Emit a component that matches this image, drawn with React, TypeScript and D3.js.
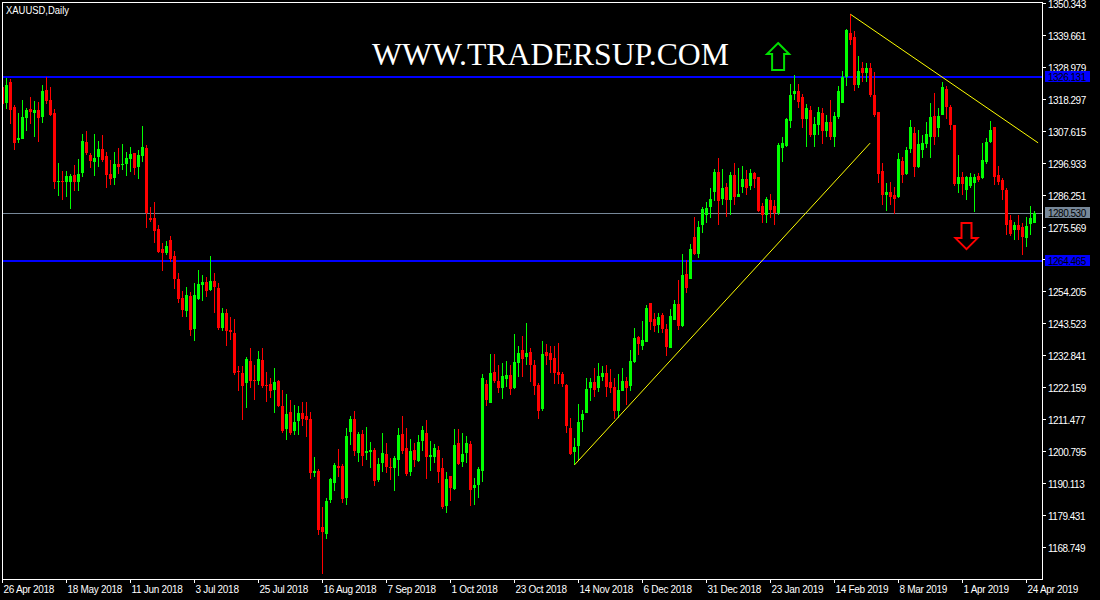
import React, { useRef, useEffect } from 'react';
import * as d3 from 'd3';

// XAUUSD daily candles (bar 0 = 26 Apr 2018)
const opens = [
  1322.5, 1317.2, 1324.3, 1316.0, 1305.0, 1305.3, 1312.4, 1315.3, 1314.0, 1315.0,
  1312.6, 1321.6, 1318.3, 1314.0, 1290.8, 1291.3, 1291.0, 1291.0, 1293.3, 1291.0,
  1294.0, 1304.3, 1300.0, 1297.6, 1299.3, 1302.0, 1299.6, 1293.6, 1292.3, 1297.0,
  1296.6, 1297.0, 1298.6, 1300.6, 1296.0, 1299.6, 1302.3, 1278.9, 1278.9, 1275.2,
  1268.5, 1267.3, 1271.5, 1266.2, 1258.5, 1252.2, 1247.9, 1252.9, 1241.9, 1252.0,
  1256.6, 1257.6, 1254.9, 1257.9, 1255.6, 1242.3, 1247.2, 1241.6, 1240.6, 1227.9,
  1227.3, 1223.9, 1231.3, 1224.9, 1224.6, 1231.6, 1223.3, 1223.6, 1221.6, 1224.6,
  1216.3, 1208.6, 1214.3, 1207.9, 1211.3, 1213.9, 1212.9, 1211.9, 1193.9, 1194.3,
  1175.8, 1173.4, 1184.8, 1190.4, 1196.1, 1196.1, 1185.4, 1207.5, 1211.8, 1200.4,
  1206.8, 1200.4, 1200.8, 1201.4, 1191.4, 1197.1, 1200.1, 1195.8, 1195.4, 1198.1,
  1206.8, 1202.1, 1194.1, 1201.4, 1197.8, 1204.4, 1207.1, 1199.1, 1199.1, 1201.4,
  1195.4, 1182.8, 1192.8, 1188.4, 1203.8, 1197.4, 1200.4, 1203.4, 1188.8, 1189.8,
  1194.6, 1223.6, 1217.3, 1227.6, 1224.6, 1222.2, 1225.3, 1226.6, 1222.2, 1230.5,
  1234.8, 1232.4, 1234.3, 1229.9, 1223.1, 1215.2, 1234.3, 1234.0, 1232.1, 1227.6,
  1226.8, 1223.3, 1208.7, 1200.8, 1202.8, 1211.4, 1213.7, 1222.1, 1224.3, 1222.2,
  1225.7, 1227.3, 1224.3, 1222.4, 1214.5, 1221.1, 1224.6, 1222.8, 1231.0, 1239.1,
  1236.2, 1237.6, 1250.4, 1245.2, 1243.2, 1246.5, 1241.7, 1235.6, 1244.9, 1250.2,
  1243.0, 1260.2, 1258.5, 1272.4, 1266.9, 1276.5, 1280.0, 1282.6, 1287.7, 1294.1,
  1285.1, 1289.3, 1284.9, 1293.3, 1286.0, 1289.4, 1291.8, 1289.6, 1294.0, 1292.6,
  1283.0, 1279.9, 1284.9, 1282.9, 1280.6, 1302.2, 1302.9, 1311.4, 1320.3, 1321.4,
  1319.2, 1312.0, 1314.9, 1306.6, 1310.0, 1313.8, 1308.0, 1311.0, 1306.0, 1312.7,
  1317.2, 1326.1, 1340.6, 1339.2, 1323.3, 1328.9, 1327.4, 1328.9, 1319.9, 1314.4,
  1294.7, 1286.6, 1287.7, 1286.6, 1285.8, 1298.0, 1293.6, 1301.8, 1307.2, 1296.0,
  1301.6, 1303.6, 1305.8, 1312.9, 1309.0, 1313.3, 1321.9, 1316.1, 1310.0, 1290.3,
  1292.7, 1288.3, 1289.6, 1290.5, 1293.0, 1292.1, 1297.7, 1304.4, 1309.4, 1293.3,
  1291.6, 1288.3, 1278.2, 1274.8, 1276.5, 1275.9, 1272.1, 1276.9, 1277.3,
];

const highs = [
  1325.0, 1325.7, 1325.3, 1316.6, 1314.0, 1318.3, 1315.6, 1319.3, 1318.0, 1317.6,
  1323.3, 1326.1, 1322.6, 1315.3, 1297.3, 1294.6, 1294.6, 1293.6, 1296.6, 1298.6,
  1307.0, 1308.0, 1300.6, 1307.0, 1304.6, 1306.6, 1300.9, 1298.3, 1300.9, 1302.3,
  1303.6, 1300.9, 1302.6, 1300.6, 1301.6, 1309.6, 1303.3, 1282.6, 1284.3, 1276.6,
  1270.5, 1271.2, 1272.9, 1267.9, 1260.5, 1254.5, 1255.9, 1254.3, 1257.2, 1261.5,
  1259.9, 1259.2, 1266.2, 1260.5, 1257.2, 1248.9, 1248.5, 1245.9, 1245.2, 1229.6,
  1229.6, 1232.6, 1235.6, 1229.9, 1234.6, 1235.6, 1227.6, 1225.6, 1228.9, 1224.9,
  1221.6, 1220.3, 1218.3, 1216.6, 1216.3, 1217.6, 1217.6, 1214.3, 1199.2, 1195.2,
  1182.4, 1185.4, 1192.1, 1197.1, 1201.8, 1196.8, 1208.8, 1212.8, 1214.5, 1207.5,
  1208.1, 1209.1, 1204.1, 1202.1, 1198.8, 1207.1, 1203.8, 1198.8, 1199.4, 1208.8,
  1212.8, 1208.8, 1205.1, 1203.8, 1206.4, 1209.4, 1211.5, 1204.4, 1203.4, 1202.8,
  1198.8, 1194.1, 1192.8, 1208.4, 1208.4, 1207.1, 1206.1, 1204.4, 1192.1, 1195.8,
  1226.9, 1224.9, 1233.5, 1233.5, 1229.9, 1230.6, 1231.2, 1229.9, 1240.3, 1236.1,
  1239.5, 1243.8, 1235.4, 1231.5, 1223.7, 1237.7, 1236.7, 1236.1, 1236.1, 1237.1,
  1227.6, 1223.5, 1212.0, 1205.5, 1216.8, 1214.8, 1225.4, 1225.4, 1228.9, 1230.6,
  1229.5, 1229.9, 1228.4, 1225.4, 1226.8, 1229.0, 1225.7, 1234.8, 1242.2, 1239.6,
  1244.6, 1250.0, 1250.6, 1247.1, 1247.3, 1247.3, 1243.5, 1248.4, 1251.6, 1258.2,
  1266.9, 1264.9, 1270.2, 1279.3, 1277.9, 1282.7, 1284.4, 1288.8, 1295.2, 1298.8,
  1295.2, 1290.7, 1294.4, 1297.2, 1295.5, 1296.2, 1294.9, 1295.2, 1294.4, 1292.6,
  1283.8, 1285.8, 1286.9, 1284.9, 1303.8, 1305.8, 1312.2, 1323.6, 1326.6, 1323.6,
  1320.3, 1316.9, 1316.3, 1312.7, 1315.8, 1315.5, 1313.3, 1318.3, 1314.4, 1323.0,
  1328.0, 1341.9, 1346.9, 1341.4, 1333.0, 1331.1, 1330.6, 1330.6, 1327.7, 1314.4,
  1297.2, 1290.5, 1291.0, 1289.4, 1300.7, 1299.4, 1302.7, 1311.6, 1309.4, 1308.3,
  1306.6, 1311.0, 1317.4, 1320.5, 1315.5, 1324.4, 1323.0, 1316.6, 1310.0, 1299.9,
  1294.4, 1293.0, 1293.8, 1293.6, 1293.8, 1303.8, 1305.5, 1311.3, 1309.4, 1296.3,
  1292.1, 1288.8, 1279.9, 1277.6, 1279.9, 1277.1, 1279.3, 1282.9, 1281.3,
];

const lows = [
  1315.0, 1315.3, 1310.3, 1301.6, 1304.0, 1305.3, 1307.9, 1310.3, 1306.0, 1304.4,
  1310.7, 1317.0, 1313.0, 1288.7, 1286.3, 1285.0, 1286.0, 1282.0, 1288.0, 1288.0,
  1292.7, 1300.0, 1295.7, 1293.0, 1296.0, 1297.6, 1289.0, 1290.0, 1290.0, 1293.6,
  1295.0, 1293.0, 1294.3, 1293.3, 1292.0, 1297.6, 1275.6, 1277.6, 1270.5, 1267.3,
  1261.3, 1266.6, 1264.3, 1255.1, 1250.6, 1245.9, 1245.9, 1239.6, 1237.9, 1251.5,
  1251.3, 1252.6, 1254.6, 1247.3, 1241.6, 1241.3, 1236.3, 1238.3, 1226.6, 1221.3,
  1211.6, 1215.6, 1222.3, 1218.3, 1223.3, 1222.3, 1217.6, 1218.9, 1213.9, 1215.9,
  1207.2, 1204.8, 1206.6, 1206.6, 1206.6, 1209.6, 1205.9, 1191.9, 1192.3, 1173.1,
  1160.1, 1171.8, 1183.8, 1187.8, 1192.4, 1183.8, 1183.1, 1203.1, 1199.4, 1197.4,
  1196.1, 1198.1, 1195.4, 1189.4, 1190.8, 1194.1, 1193.8, 1191.4, 1187.8, 1192.8,
  1200.1, 1192.8, 1192.8, 1195.8, 1197.4, 1201.1, 1191.8, 1194.4, 1197.1, 1190.4,
  1181.8, 1180.4, 1184.4, 1188.1, 1196.4, 1195.8, 1197.1, 1182.8, 1183.1, 1185.4,
  1190.8, 1216.1, 1217.3, 1223.7, 1220.6, 1218.5, 1222.6, 1219.9, 1221.7, 1225.8,
  1225.9, 1229.9, 1224.2, 1219.9, 1211.8, 1214.5, 1229.8, 1227.0, 1223.5, 1223.5,
  1222.6, 1207.0, 1199.8, 1196.5, 1197.8, 1207.6, 1213.7, 1217.9, 1219.3, 1220.7,
  1224.6, 1219.3, 1220.6, 1211.8, 1212.0, 1221.0, 1216.6, 1221.3, 1230.5, 1233.2,
  1234.8, 1237.6, 1241.5, 1240.9, 1240.4, 1240.6, 1232.8, 1235.6, 1244.9, 1241.5,
  1242.6, 1253.9, 1258.5, 1266.6, 1265.7, 1274.0, 1277.3, 1278.8, 1284.6, 1276.6,
  1283.2, 1279.3, 1279.9, 1283.2, 1286.0, 1287.1, 1286.6, 1288.3, 1288.8, 1281.0,
  1277.1, 1277.3, 1278.8, 1276.6, 1279.9, 1297.7, 1302.7, 1309.0, 1318.3, 1315.5,
  1308.8, 1302.7, 1306.0, 1302.7, 1306.6, 1303.6, 1306.0, 1305.1, 1302.5, 1311.8,
  1317.2, 1323.0, 1336.7, 1321.4, 1322.2, 1324.4, 1324.4, 1319.4, 1312.7, 1290.5,
  1283.2, 1281.3, 1283.2, 1280.4, 1285.5, 1290.5, 1293.3, 1300.5, 1292.7, 1295.5,
  1298.8, 1302.2, 1298.8, 1303.3, 1306.0, 1313.3, 1311.8, 1308.3, 1289.6, 1287.1,
  1286.6, 1284.9, 1288.8, 1281.0, 1291.0, 1291.8, 1297.0, 1303.8, 1289.9, 1289.9,
  1284.9, 1273.2, 1272.9, 1271.6, 1271.6, 1266.5, 1269.3, 1273.2, 1277.3,
];

const closes = [
  1317.0, 1323.3, 1315.0, 1304.0, 1305.6, 1312.6, 1315.0, 1314.3, 1315.0, 1312.4,
  1321.3, 1317.9, 1313.3, 1291.0, 1291.1, 1291.0, 1293.0, 1293.0, 1291.0, 1293.6,
  1304.6, 1300.6, 1298.0, 1299.0, 1302.0, 1298.3, 1293.3, 1292.0, 1297.0, 1296.0,
  1297.0, 1299.0, 1300.3, 1295.7, 1300.0, 1302.6, 1280.6, 1278.3, 1274.7, 1267.6,
  1267.3, 1269.5, 1265.2, 1258.6, 1252.0, 1248.3, 1253.2, 1241.6, 1253.2, 1256.9,
  1257.6, 1254.5, 1257.9, 1255.9, 1242.3, 1247.2, 1241.3, 1240.9, 1227.3, 1227.6,
  1222.9, 1231.8, 1224.6, 1224.6, 1231.9, 1222.9, 1222.9, 1221.3, 1224.3, 1216.3,
  1207.9, 1213.6, 1207.2, 1210.9, 1213.9, 1211.9, 1211.6, 1193.9, 1194.3, 1174.8,
  1174.1, 1184.4, 1191.8, 1196.4, 1195.4, 1185.1, 1206.1, 1211.8, 1201.1, 1206.8,
  1199.4, 1201.1, 1201.4, 1191.1, 1196.8, 1200.4, 1195.8, 1195.4, 1198.8, 1206.4,
  1201.1, 1193.4, 1201.1, 1198.1, 1204.1, 1208.1, 1199.1, 1199.8, 1202.1, 1194.1,
  1182.4, 1191.8, 1188.8, 1203.1, 1196.8, 1200.1, 1203.8, 1188.1, 1189.8, 1195.1,
  1225.6, 1218.0, 1227.3, 1224.6, 1222.2, 1226.2, 1226.6, 1221.9, 1230.9, 1233.8,
  1231.8, 1233.9, 1229.7, 1222.8, 1214.5, 1233.5, 1232.8, 1231.5, 1227.3, 1226.5,
  1223.5, 1209.6, 1200.1, 1202.5, 1210.8, 1213.6, 1221.7, 1224.3, 1221.5, 1226.2,
  1227.3, 1222.6, 1222.1, 1214.5, 1221.5, 1224.6, 1222.1, 1231.2, 1239.0, 1236.9,
  1238.1, 1248.9, 1244.3, 1242.8, 1245.9, 1242.0, 1235.9, 1246.2, 1250.2, 1243.0,
  1259.9, 1255.6, 1268.5, 1266.9, 1275.8, 1281.9, 1282.2, 1285.2, 1294.4, 1284.7,
  1288.8, 1284.9, 1293.3, 1286.0, 1287.0, 1291.8, 1289.0, 1294.0, 1291.8, 1281.3,
  1279.9, 1285.1, 1281.6, 1280.5, 1303.3, 1303.9, 1311.9, 1319.9, 1321.4, 1317.7,
  1312.0, 1315.5, 1306.6, 1310.3, 1314.4, 1308.0, 1311.0, 1305.8, 1312.8, 1321.3,
  1326.1, 1341.6, 1338.4, 1323.3, 1328.1, 1327.2, 1328.9, 1319.9, 1313.3, 1293.6,
  1286.6, 1287.7, 1286.0, 1285.2, 1298.5, 1293.2, 1301.6, 1309.4, 1296.0, 1303.6,
  1303.9, 1306.9, 1312.7, 1306.0, 1313.0, 1322.6, 1316.1, 1310.0, 1290.3, 1292.7,
  1290.3, 1292.7, 1292.7, 1292.7, 1291.6, 1298.3, 1304.4, 1308.3, 1292.5, 1291.0,
  1288.3, 1276.6, 1273.6, 1276.5, 1274.8, 1272.4, 1276.1, 1278.8, 1280.53,
];

// time axis: one label every 16 bars
const xTickLabels = [
  '26 Apr 2018', '18 May 2018', '11 Jun 2018', '3 Jul 2018', '25 Jul 2018', '16 Aug 2018',
  '7 Sep 2018', '1 Oct 2018', '23 Oct 2018', '14 Nov 2018', '6 Dec 2018', '31 Dec 2018',
  '23 Jan 2019', '14 Feb 2019', '8 Mar 2019', '1 Apr 2019', '24 Apr 2019',
];
const xTickStep = 16;

const yTickValues = [
  1350.343, 1339.661, 1328.979, 1318.297, 1307.615, 1296.933, 1286.251, 1275.569, 1264.887,
  1254.205, 1243.523, 1232.841, 1222.159, 1211.477, 1200.795, 1190.113, 1179.431, 1168.749,
];

// horizontal levels and current bid
const levelPrices = [1326.131, 1264.465];
const bidPrice = 1280.53;

// trend lines as [bar, price] pairs
const trendUp = [[143, 1196.5], [216.9, 1303.9]];
const trendDown = [[212, 1346.9], [258.9, 1304.0]];

// arrow anchors [bar, price at top of arrow]
const upArrow = [193.9, 1337.3];
const downArrow = [241, 1277.2];

const W = 1100;
const H = 600;

function CandleChart() {
  const svgRef = useRef(null);

  useEffect(() => {
    document.body.style.margin = '0';
    const svg = d3.select(svgRef.current);
    svg.selectAll('*').remove();

    const left = 2;
    const right = 1042;
    const top = 2;
    const bottom = 579;
    const font = '"Liberation Sans", Arial, sans-serif';

    const x = d3.scaleLinear().domain([0, 1]).range([1, 5]); // 4px per bar
    const cx = (i) => x(i) + 1.5;
    const y = d3.scaleLinear()
      .domain([yTickValues[yTickValues.length - 1], yTickValues[0]])
      .range([548, 4]);

    svg.append('rect').attr('width', W).attr('height', H).attr('fill', '#000');

    svg.append('defs').append('clipPath').attr('id', 'plot')
      .append('rect')
      .attr('x', left).attr('y', top)
      .attr('width', right - left).attr('height', bottom - top);

    const plot = svg.append('g').attr('clip-path', 'url(#plot)');

    // levels
    levelPrices.forEach(p => {
      const yy = Math.round(y(p));
      plot.append('rect')
        .attr('x', left).attr('width', right - left)
        .attr('y', yy - 1).attr('height', 2)
        .attr('fill', '#0000ff');
    });
    plot.append('line')
      .attr('x1', left).attr('x2', right)
      .attr('y1', Math.round(y(bidPrice)) + 0.5).attr('y2', Math.round(y(bidPrice)) + 0.5)
      .attr('stroke', '#778899').attr('stroke-width', 1);

    // candles
    const candles = plot.append('g').attr('shape-rendering', 'crispEdges');
    closes.forEach((c, i) => {
      const o = opens[i];
      const up = c >= o;
      const color = up ? '#00ff00' : '#ff0000';
      const xl = Math.round(x(i));
      const hy = Math.round(y(highs[i]));
      const ly = Math.round(y(lows[i]));
      candles.append('rect')
        .attr('x', xl + 1).attr('width', 1)
        .attr('y', hy).attr('height', Math.max(1, ly - hy))
        .attr('fill', color);
      const bt = Math.round(y(Math.max(o, c)));
      const bb = Math.round(y(Math.min(o, c)));
      candles.append('rect')
        .attr('x', xl).attr('width', 3)
        .attr('y', bt).attr('height', Math.max(1, bb - bt))
        .attr('fill', color);
    });

    // trend lines
    [trendUp, trendDown].forEach(t => {
      plot.append('line')
        .attr('x1', cx(t[0][0])).attr('y1', y(t[0][1]))
        .attr('x2', cx(t[1][0])).attr('y2', y(t[1][1]))
        .attr('stroke', '#ffff00').attr('stroke-width', 1);
    });

    // arrows
    const ux = cx(upArrow[0]);
    const uy = y(upArrow[1]);
    svg.append('path')
      .attr('d', `M${ux},${uy} L${ux + 11},${uy + 11} L${ux + 6},${uy + 11} L${ux + 6},${uy + 27} L${ux - 6},${uy + 27} L${ux - 6},${uy + 11} L${ux - 11},${uy + 11} Z`)
      .attr('fill', 'none').attr('stroke', '#00e000').attr('stroke-width', 2)
      .attr('stroke-linejoin', 'miter');
    const dx = cx(downArrow[0]);
    const dy = y(downArrow[1]);
    svg.append('path')
      .attr('d', `M${dx - 5},${dy} L${dx + 5},${dy} L${dx + 5},${dy + 15} L${dx + 11},${dy + 15} L${dx},${dy + 26} L${dx - 11},${dy + 15} L${dx - 5},${dy + 15} Z`)
      .attr('fill', 'none').attr('stroke', '#ff0000').attr('stroke-width', 2)
      .attr('stroke-linejoin', 'miter');

    // watermark
    svg.append('text')
      .attr('x', 372).attr('y', 65)
      .attr('font-family', '"Liberation Serif", "Times New Roman", serif')
      .attr('font-size', 31)
      .attr('textLength', 357)
      .attr('lengthAdjust', 'spacingAndGlyphs')
      .attr('fill', '#fff')
      .text('WWW.TRADERSUP.COM');

    // title
    svg.append('text')
      .attr('x', 6).attr('y', 14)
      .attr('font-family', font).attr('font-size', 11)
      .attr('textLength', 63).attr('lengthAdjust', 'spacingAndGlyphs')
      .attr('fill', '#fff')
      .text('XAUUSD,Daily');

    // frame
    svg.append('path')
      .attr('d', `M${left + 0.5},${bottom + 0.5} V${top + 0.5} H${right + 0.5} V${bottom + 0.5} Z`)
      .attr('fill', 'none').attr('stroke', '#fff').attr('stroke-width', 1)
      .attr('shape-rendering', 'crispEdges');

    // y axis
    const yAxis = svg.append('g');
    yTickValues.forEach(v => {
      const yy = Math.round(y(v)) - 0.5;
      yAxis.append('line')
        .attr('x1', right).attr('x2', right + 4)
        .attr('y1', yy).attr('y2', yy)
        .attr('stroke', '#fff').attr('shape-rendering', 'crispEdges');
      yAxis.append('text')
        .attr('x', 1048).attr('y', yy + 4)
        .attr('font-family', font).attr('font-size', 10)
        .attr('letter-spacing', -0.5)
        .attr('fill', '#fff')
        .text(v.toFixed(3));
    });

    // price boxes on the axis
    const boxes = [
      { p: levelPrices[0], fill: '#0000ff' },
      { p: bidPrice, fill: '#778899' },
      { p: levelPrices[1], fill: '#0000ff' },
    ];
    boxes.forEach(b => {
      const yy = Math.round(y(b.p));
      yAxis.append('rect')
        .attr('x', 1045).attr('y', yy - 6)
        .attr('width', 45).attr('height', 11)
        .attr('fill', b.fill);
      yAxis.append('text')
        .attr('x', 1048).attr('y', yy + 4)
        .attr('font-family', font).attr('font-size', 10)
        .attr('letter-spacing', -0.5)
        .attr('fill', '#000')
        .text(b.p.toFixed(3));
    });

    // x axis
    const xAxis = svg.append('g');
    xTickLabels.forEach((label, k) => {
      const xx = Math.round(cx(k * xTickStep)) - 0.5;
      xAxis.append('line')
        .attr('x1', xx).attr('x2', xx)
        .attr('y1', bottom).attr('y2', bottom + 4)
        .attr('stroke', '#fff').attr('shape-rendering', 'crispEdges');
      xAxis.append('text')
        .attr('x', xx + 1).attr('y', 593)
        .attr('font-family', font).attr('font-size', 10)
        .attr('letter-spacing', -0.3)
        .attr('fill', '#fff')
        .text(label);
    });
  }, []);

  return (
    <svg ref={svgRef} width={W} height={H}
      style={{ display: 'block', position: 'absolute', left: 0, top: 0 }} />
  );
}

export default function App() {
  return <CandleChart />;
}
